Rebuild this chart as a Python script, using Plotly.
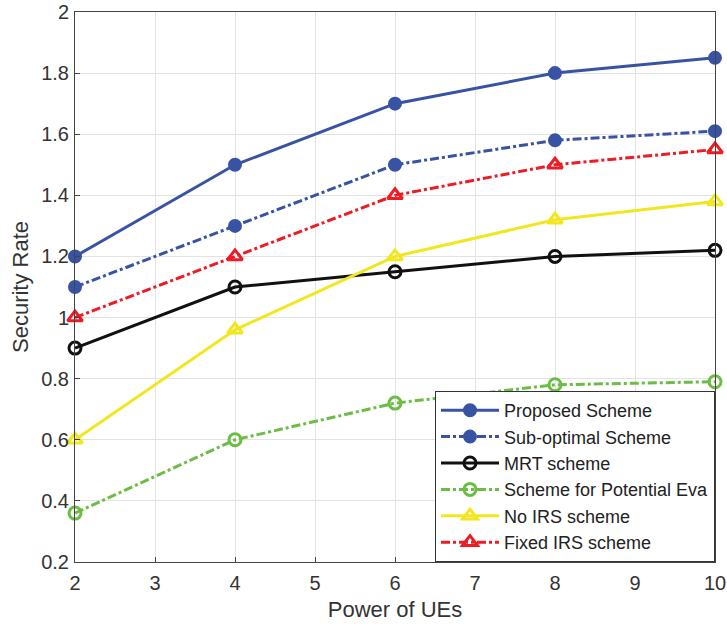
import plotly.graph_objects as go

x_power = [2, 4, 6, 8, 10]
proposed = [1.2, 1.5, 1.7, 1.8, 1.85]
sub_optimal = [1.1, 1.3, 1.5, 1.58, 1.61]
mrt = [0.9, 1.1, 1.15, 1.2, 1.22]
potential_eva = [0.36, 0.6, 0.72, 0.78, 0.79]
no_irs = [0.6, 0.96, 1.2, 1.32, 1.38]
fixed_irs = [1.0, 1.2, 1.4, 1.5, 1.55]

names = ["Proposed Scheme", "Sub-optimal Scheme", "MRT scheme",
         "Scheme for Potential Eva", "No IRS scheme", "Fixed IRS scheme"]

BLUE = "#3953a4"
series = [
    (proposed, names[0], BLUE, "solid", "circle", BLUE),
    (sub_optimal, names[1], BLUE, "dashdot", "circle", BLUE),
    (mrt, names[2], "#111111", "solid", "circle-open", None),
    (potential_eva, names[3], "#6cbd45", "dashdot", "circle-open", None),
    (no_irs, names[4], "#f2e61f", "solid", "triangle-up-open", None),
    (fixed_irs, names[5], "#ec1c24", "dashdot", "triangle-up-open", None),
]

fig = go.Figure()
for ys, nm, col, dash, sym, fill in series:
    marker = dict(symbol=sym, size=13 if "triangle" in sym else (11 if fill else 12),
                  color=fill if fill else col, line=dict(color=col, width=3))
    fig.add_trace(go.Scatter(x=x_power, y=ys, name=nm, mode="lines+markers",
                             line=dict(color=col, width=3, dash=dash),
                             marker=marker, cliponaxis=False))

axis_common = dict(showgrid=True, gridcolor="#e3e3e3", gridwidth=1,
                   showline=True, linecolor="#444444", linewidth=1, mirror=True,
                   ticks="inside", ticklen=5, tickcolor="#444444",
                   tickfont=dict(family="Liberation Sans, Arial, sans-serif", size=20, color="#333333"),
                   zeroline=False, automargin=False)

fig.update_layout(
    width=727, height=632,
    margin=dict(l=75, r=12, t=12, b=70),
    plot_bgcolor="white", paper_bgcolor="white",
    font=dict(family="Liberation Sans, Arial, sans-serif", color="#333333"),
    xaxis=dict(range=[2, 10], dtick=1, ticklabelstandoff=3,
               title=dict(text="Power of UEs", font=dict(size=22), standoff=8), **axis_common),
    yaxis=dict(range=[0.2, 2.0], dtick=0.2, tickformat="~g", ticklabelstandoff=1,
               title=dict(text="Security Rate", font=dict(size=22), standoff=6), **axis_common),
    legend=dict(x=1, y=0, xanchor="right", yanchor="bottom",
                bgcolor="white", bordercolor="#333333", borderwidth=1,
                font=dict(size=18, color="#222222"), tracegroupgap=0,
                itemwidth=58),
)

fig.write_html("out.html")
